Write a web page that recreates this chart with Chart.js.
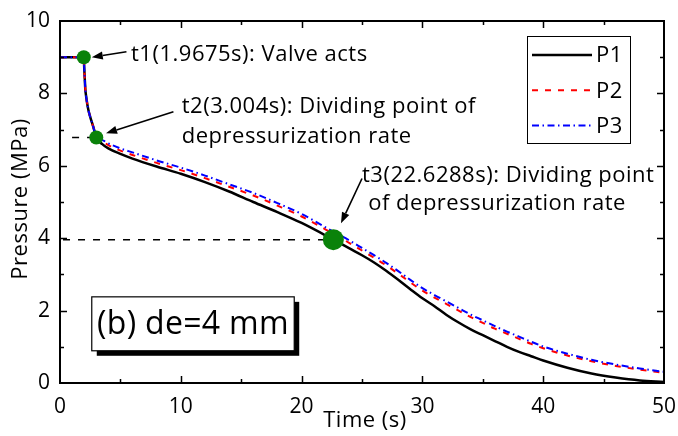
<!DOCTYPE html>
<html>
<head>
<meta charset="utf-8">
<script src="https://cdn.jsdelivr.net/npm/chart.js@4.4.0/dist/chart.umd.min.js"></script>
<style>
  html, body { margin: 0; padding: 0; background: #fff; }
  #wrap { width: 678px; height: 436px; }
</style>
</head>
<body>
<div id="wrap"><canvas id="c" width="678" height="436"></canvas></div>
<script>
// Sample times (s)
const time = [0, 1.9675, 2.0, 2.05, 2.1, 2.15, 2.25, 2.35, 2.5, 2.75, 2.9, 3.004,
  3.5, 4, 5, 6, 8, 10, 12, 14, 16, 18, 20, 22.6288, 24, 25, 26, 27, 28, 29, 30,
  31, 32, 33, 34, 35, 36, 37, 38, 39, 40, 42, 44, 46, 48, 50];

// Pressure histories (MPa)
const p1 = [9.0, 9.0, 8.75, 8.4, 8.1, 7.95, 7.72, 7.54, 7.35, 7.08, 6.9, 6.78,
  6.6, 6.48, 6.33, 6.2, 5.98, 5.78, 5.55, 5.29, 5.0, 4.72, 4.42, 3.96, 3.71, 3.53, 3.33, 3.1, 2.85, 2.59, 2.34,
  2.12, 1.88, 1.67, 1.48, 1.32, 1.16, 1.0, 0.86, 0.74, 0.62, 0.42, 0.26, 0.15, 0.07, 0.03];
const p2 = [9.0, 9.0, 8.75, 8.4, 8.1, 7.95, 7.72, 7.54, 7.35, 7.08, 6.9, 6.78,
  6.67, 6.57, 6.42, 6.3, 6.08, 5.88, 5.66, 5.42, 5.18, 4.9, 4.6, 4.12, 3.86, 3.66, 3.46, 3.25, 3.02, 2.78, 2.55,
  2.36, 2.18, 2.0, 1.82, 1.66, 1.5, 1.36, 1.22, 1.08, 0.96, 0.76, 0.6, 0.47, 0.37, 0.28];
const p3 = [9.0, 9.0, 8.75, 8.4, 8.1, 7.95, 7.72, 7.54, 7.35, 7.08, 6.9, 6.78,
  6.71, 6.62, 6.48, 6.37, 6.15, 5.95, 5.73, 5.49, 5.25, 4.97, 4.67, 4.18, 3.93, 3.73, 3.53, 3.32, 3.09, 2.85, 2.62,
  2.43, 2.25, 2.07, 1.89, 1.73, 1.57, 1.42, 1.28, 1.14, 1.01, 0.81, 0.64, 0.51, 0.4, 0.31];

const seriesNames = ['P1', 'P2', 'P3'];

// Characteristic instants
const eventTimes = [1.9675, 3.004, 22.6288];
const eventPressures = [9.0, 6.78, 3.96];
const eventNotes = [
  ['t1(1.9675s): Valve acts'],
  ['t2(3.004s): Dividing point of', 'depressurization rate'],
  ['t3(22.6288s): Dividing point', ' of depressurization rate']
];

const caseLabel = '(b) de=4 mm';
const xTitle = 'Time (s)';
const yTitle = 'Pressure (MPa)';

const FONT = '"Open Sans"';

// Where the notes, arrows and case box sit, in axis units (s, MPa)
const notePlacement = [
  { lines: [[5.88, 9.06]], tail: [5.5, 9.15], tip: [2.63, 9.0] },
  { lines: [[10.08, 7.62], [10.08, 6.80]], tail: [9.39, 7.49], tip: [3.81, 6.90] },
  { lines: [[25.0, 5.72], [25.0, 4.94]], tail: [25.0, 5.65], tip: [23.26, 4.41] }
];
const caseBox = { x1: 2.63, y1: 2.38, x2: 19.39, y2: 0.89 };

const toXY = (vals) => time.map((t, i) => ({ x: t, y: vals[i] }));

function arrow(ctx, x0, y0, x1, y1) {
  const a = Math.atan2(y1 - y0, x1 - x0);
  const L = 11, W = 4;
  const bx = x1 - L * Math.cos(a), by = y1 - L * Math.sin(a);
  ctx.beginPath();
  ctx.moveTo(x0, y0);
  ctx.lineTo(bx, by);
  ctx.stroke();
  ctx.beginPath();
  ctx.moveTo(x1, y1);
  ctx.lineTo(bx + W * Math.sin(a), by - W * Math.cos(a));
  ctx.lineTo(bx - W * Math.sin(a), by + W * Math.cos(a));
  ctx.closePath();
  ctx.fill();
}

// fixed axis band sizes; edge labels may overhang the plot box
function fixBand(prop, size) {
  return (s) => {
    s[prop] = size;
    s.paddingLeft = s.paddingRight = s.paddingTop = s.paddingBottom = 0;
  };
}

const decor = {
  id: 'decor',
  beforeDatasetsDraw(chart) {
    const { ctx, scales: { x, y } } = chart;
    ctx.save();
    ctx.strokeStyle = '#000';
    ctx.lineWidth = 1.5;
    ctx.setLineDash([7, 8]);
    // horizontal guides to t2 and t3
    const starts = [1.0, 0.25];
    [1, 2].forEach((k, j) => {
      const py = y.getPixelForValue(eventPressures[k]);
      ctx.beginPath();
      ctx.moveTo(x.getPixelForValue(starts[j]), py);
      ctx.lineTo(x.getPixelForValue(eventTimes[k]), py);
      ctx.stroke();
    });
    ctx.restore();
  },
  afterDraw(chart) {
    const { ctx, chartArea: ca, scales: { x, y } } = chart;
    ctx.save();
    // frame
    ctx.strokeStyle = '#000';
    ctx.lineWidth = 2;
    ctx.setLineDash([]);
    ctx.strokeRect(ca.left, ca.top, ca.right - ca.left, ca.bottom - ca.top);
    // inward ticks on all four sides
    ctx.lineWidth = 1.5;
    ctx.beginPath();
    for (let t = 5; t < 50; t += 5) {
      const px = Math.round(x.getPixelForValue(t)) + 0.5;
      const len = t % 10 === 0 ? 7 : 4;
      ctx.moveTo(px, ca.bottom); ctx.lineTo(px, ca.bottom - len);
      ctx.moveTo(px, ca.top); ctx.lineTo(px, ca.top + len);
    }
    for (let p = 1; p < 10; p += 1) {
      const py = Math.round(y.getPixelForValue(p)) + 0.5;
      const len = p % 2 === 0 ? 7 : 4;
      ctx.moveTo(ca.left, py); ctx.lineTo(ca.left + len, py);
      ctx.moveTo(ca.right, py); ctx.lineTo(ca.right - len, py);
    }
    ctx.stroke();

    ctx.letterSpacing = '0.5px';
    ctx.fillStyle = '#000';
    ctx.textBaseline = 'middle';

    // axis titles
    ctx.font = `22px ${FONT}`;
    ctx.textAlign = 'center';
    ctx.fillText(xTitle, (ca.left + ca.right) / 2 + 3, 421);
    ctx.save();
    ctx.translate(21, (ca.top + ca.bottom) / 2 - 3);
    ctx.rotate(-Math.PI / 2);
    ctx.fillText(yTitle, 0, 0);
    ctx.restore();

    // legend
    const lx = ca.right - 137, ly = ca.top + 15, lw = 103, lh = 107;
    ctx.lineWidth = 1;
    ctx.strokeRect(lx + 0.5, ly + 0.5, lw, lh);
    ctx.font = `22px ${FONT}`;
    ctx.textAlign = 'left';
    chart.data.datasets.slice(0, 3).forEach((ds, i) => {
      const yy = ly + 19 + i * 35.3;
      ctx.strokeStyle = ds.borderColor;
      ctx.lineWidth = ds.borderWidth;
      ctx.setLineDash(ds.borderDash || []);
      ctx.beginPath();
      ctx.moveTo(lx + 5, yy);
      ctx.lineTo(lx + 65, yy);
      ctx.stroke();
      ctx.fillText(ds.label, lx + 69, yy + 1);
    });
    ctx.setLineDash([]);

    // notes and arrows
    ctx.strokeStyle = '#000';
    ctx.fillStyle = '#000';
    ctx.lineWidth = 1.6;
    ctx.font = `22px ${FONT}`;
    notePlacement.forEach((n, i) => {
      eventNotes[i].forEach((txt, j) => {
        ctx.fillText(txt, x.getPixelForValue(n.lines[j][0]), y.getPixelForValue(n.lines[j][1]));
      });
      arrow(ctx, x.getPixelForValue(n.tail[0]), y.getPixelForValue(n.tail[1]),
        x.getPixelForValue(n.tip[0]), y.getPixelForValue(n.tip[1]));
    });

    // case box with drop shadow
    const bx1 = x.getPixelForValue(caseBox.x1), by1 = y.getPixelForValue(caseBox.y1);
    const bx2 = x.getPixelForValue(caseBox.x2), by2 = y.getPixelForValue(caseBox.y2);
    ctx.fillStyle = '#000';
    ctx.fillRect(bx1 + 5, by1 + 5, bx2 - bx1, by2 - by1);
    ctx.fillStyle = '#fff';
    ctx.fillRect(bx1, by1, bx2 - bx1, by2 - by1);
    ctx.lineWidth = 1.2;
    ctx.strokeRect(bx1, by1, bx2 - bx1, by2 - by1);
    ctx.fillStyle = '#000';
    ctx.font = `32px ${FONT}`;
    ctx.letterSpacing = '0.3px';
    ctx.textAlign = 'center';
    ctx.fillText(caseLabel, (bx1 + bx2) / 2, (by1 + by2) / 2 + 1);
    ctx.restore();
  }
};

new Chart(document.getElementById('c'), {
  type: 'line',
  data: {
    datasets: [
      { label: seriesNames[0], data: toXY(p1), borderColor: '#000000', borderWidth: 2.5, order: 3 },
      { label: seriesNames[1], data: toXY(p2), borderColor: '#ff0000', borderWidth: 2, borderDash: [6, 7], order: 2 },
      { label: seriesNames[2], data: toXY(p3), borderColor: '#0000ff', borderWidth: 2, borderDash: [7, 3.5, 1.5, 3.5], order: 1 },
      {
        label: 'events',
        data: eventTimes.map((t, i) => ({ x: t, y: eventPressures[i] })),
        showLine: false,
        pointRadius: [7, 7, 10.5],
        pointBackgroundColor: '#0a820a',
        pointBorderWidth: 0,
        order: 0
      }
    ]
  },
  options: {
    responsive: false,
    devicePixelRatio: 1,
    animation: false,
    events: [],
    elements: {
      point: { radius: 0 },
      line: { cubicInterpolationMode: 'monotone', fill: false }
    },
    layout: { padding: { left: 0, right: 14, top: 21, bottom: 0 } },
    plugins: { legend: { display: false }, tooltip: { enabled: false } },
    scales: {
      x: {
        type: 'linear', min: 0, max: 50,
        afterFit: fixBand('height', 53),
        grid: { display: false, drawTicks: false },
        border: { display: false },
        ticks: { stepSize: 10, color: '#000', font: { family: FONT, size: 21 }, padding: 11, maxRotation: 0 }
      },
      y: {
        type: 'linear', min: 0, max: 10,
        afterFit: fixBand('width', 60),
        grid: { display: false, drawTicks: false },
        border: { display: false },
        ticks: { stepSize: 2, color: '#000', font: { family: FONT, size: 21 }, padding: 10 }
      }
    }
  },
  plugins: [decor]
});
</script>
</body>
</html>
